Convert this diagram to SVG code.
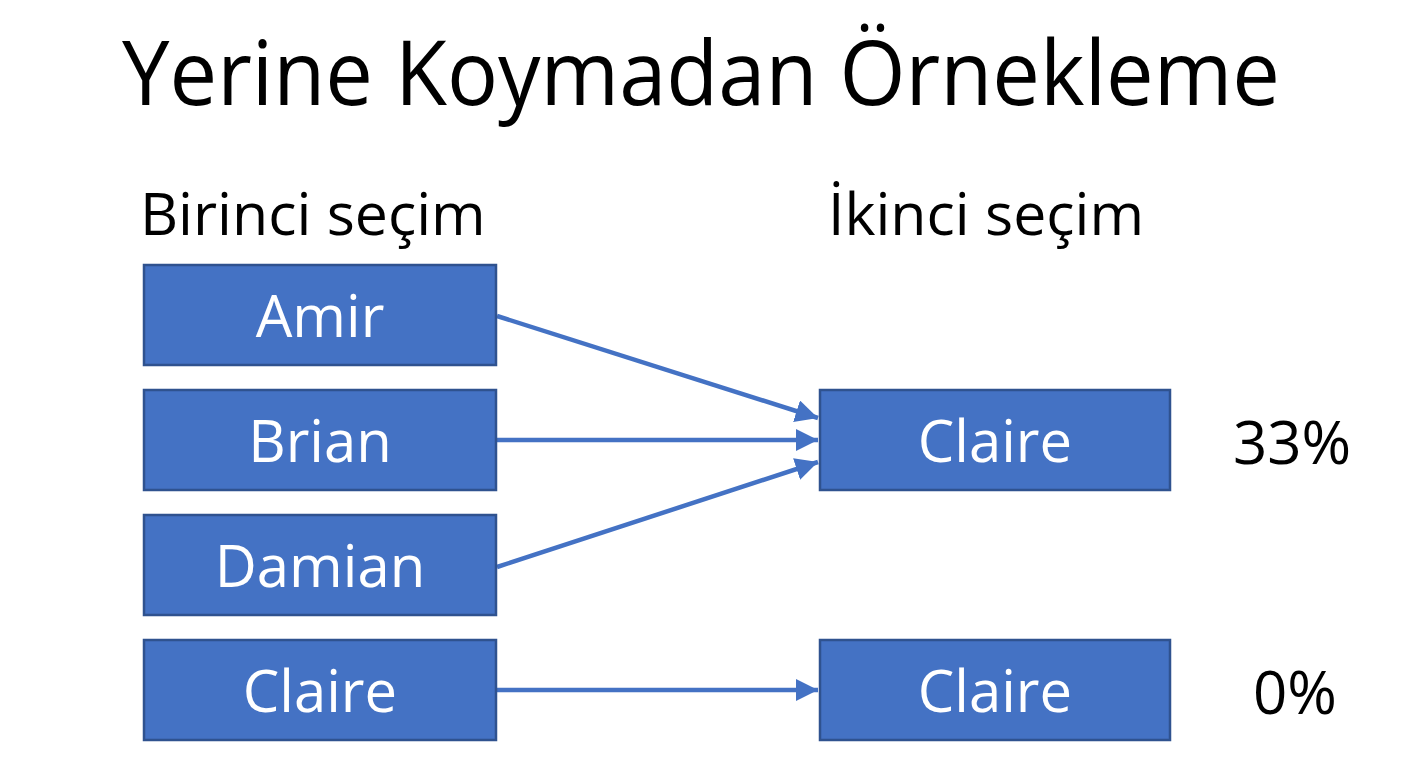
<svg xmlns="http://www.w3.org/2000/svg" width="1408" height="768" viewBox="0 0 1408 768">
<defs>
<style>
.box{fill:#4472C4;stroke:#2F528F;stroke-width:2.5}
.bt{font-family:"Open Sans","Liberation Sans",sans-serif;font-size:58px;fill:#fff;text-anchor:middle}
.hd{font-family:"Open Sans","Liberation Sans",sans-serif;font-size:59px;fill:#000}
.pc{font-family:"Open Sans","Liberation Sans",sans-serif;font-size:60px;fill:#000;text-anchor:middle}
.ln{stroke:#4472C4;stroke-width:4.5;fill:none;marker-end:url(#ah)}
</style>
<marker id="ah" viewBox="0 0 10 10" refX="10" refY="5" markerWidth="5" markerHeight="5" orient="auto" markerUnits="strokeWidth">
<path d="M0,0 L10,5 L0,10 z" fill="#4472C4"/>
</marker>
</defs>
<rect width="1408" height="768" fill="#fff"/>
<text x="701" y="105" font-family="'Open Sans','Liberation Sans',sans-serif" font-size="90" text-anchor="middle" fill="#000" textLength="1158" lengthAdjust="spacingAndGlyphs">Yerine Koymadan Örnekleme</text>
<text class="hd" x="140" y="235">Birinci seçim</text>
<text class="hd" x="828" y="235">İkinci seçim</text>
<g id="connectors">
<line class="ln" x1="497" y1="316" x2="818" y2="418"/>
<line class="ln" x1="497" y1="440" x2="818" y2="440"/>
<line class="ln" x1="497" y1="567" x2="818" y2="462"/>
<line class="ln" x1="497" y1="690" x2="818" y2="690"/>
</g>
<g id="amir"><rect class="box" x="144" y="265" width="352" height="100"/><text class="bt" x="320" y="337">Amir</text></g>
<g id="brian"><rect class="box" x="144" y="390" width="352" height="100"/><text class="bt" x="320" y="462">Brian</text></g>
<g id="damian"><rect class="box" x="144" y="515" width="352" height="100"/><text class="bt" x="320" y="587">Damian</text></g>
<g id="claire1"><rect class="box" x="144" y="640" width="352" height="100"/><text class="bt" x="320" y="712">Claire</text></g>
<g id="claire2"><rect class="box" x="820" y="390" width="350" height="100"/><text class="bt" x="995" y="462">Claire</text></g>
<g id="claire3"><rect class="box" x="820" y="640" width="350" height="100"/><text class="bt" x="995" y="712">Claire</text></g>
<text class="pc" x="1292" y="464">33%</text>
<text class="pc" x="1295" y="714">0%</text>
</svg>
